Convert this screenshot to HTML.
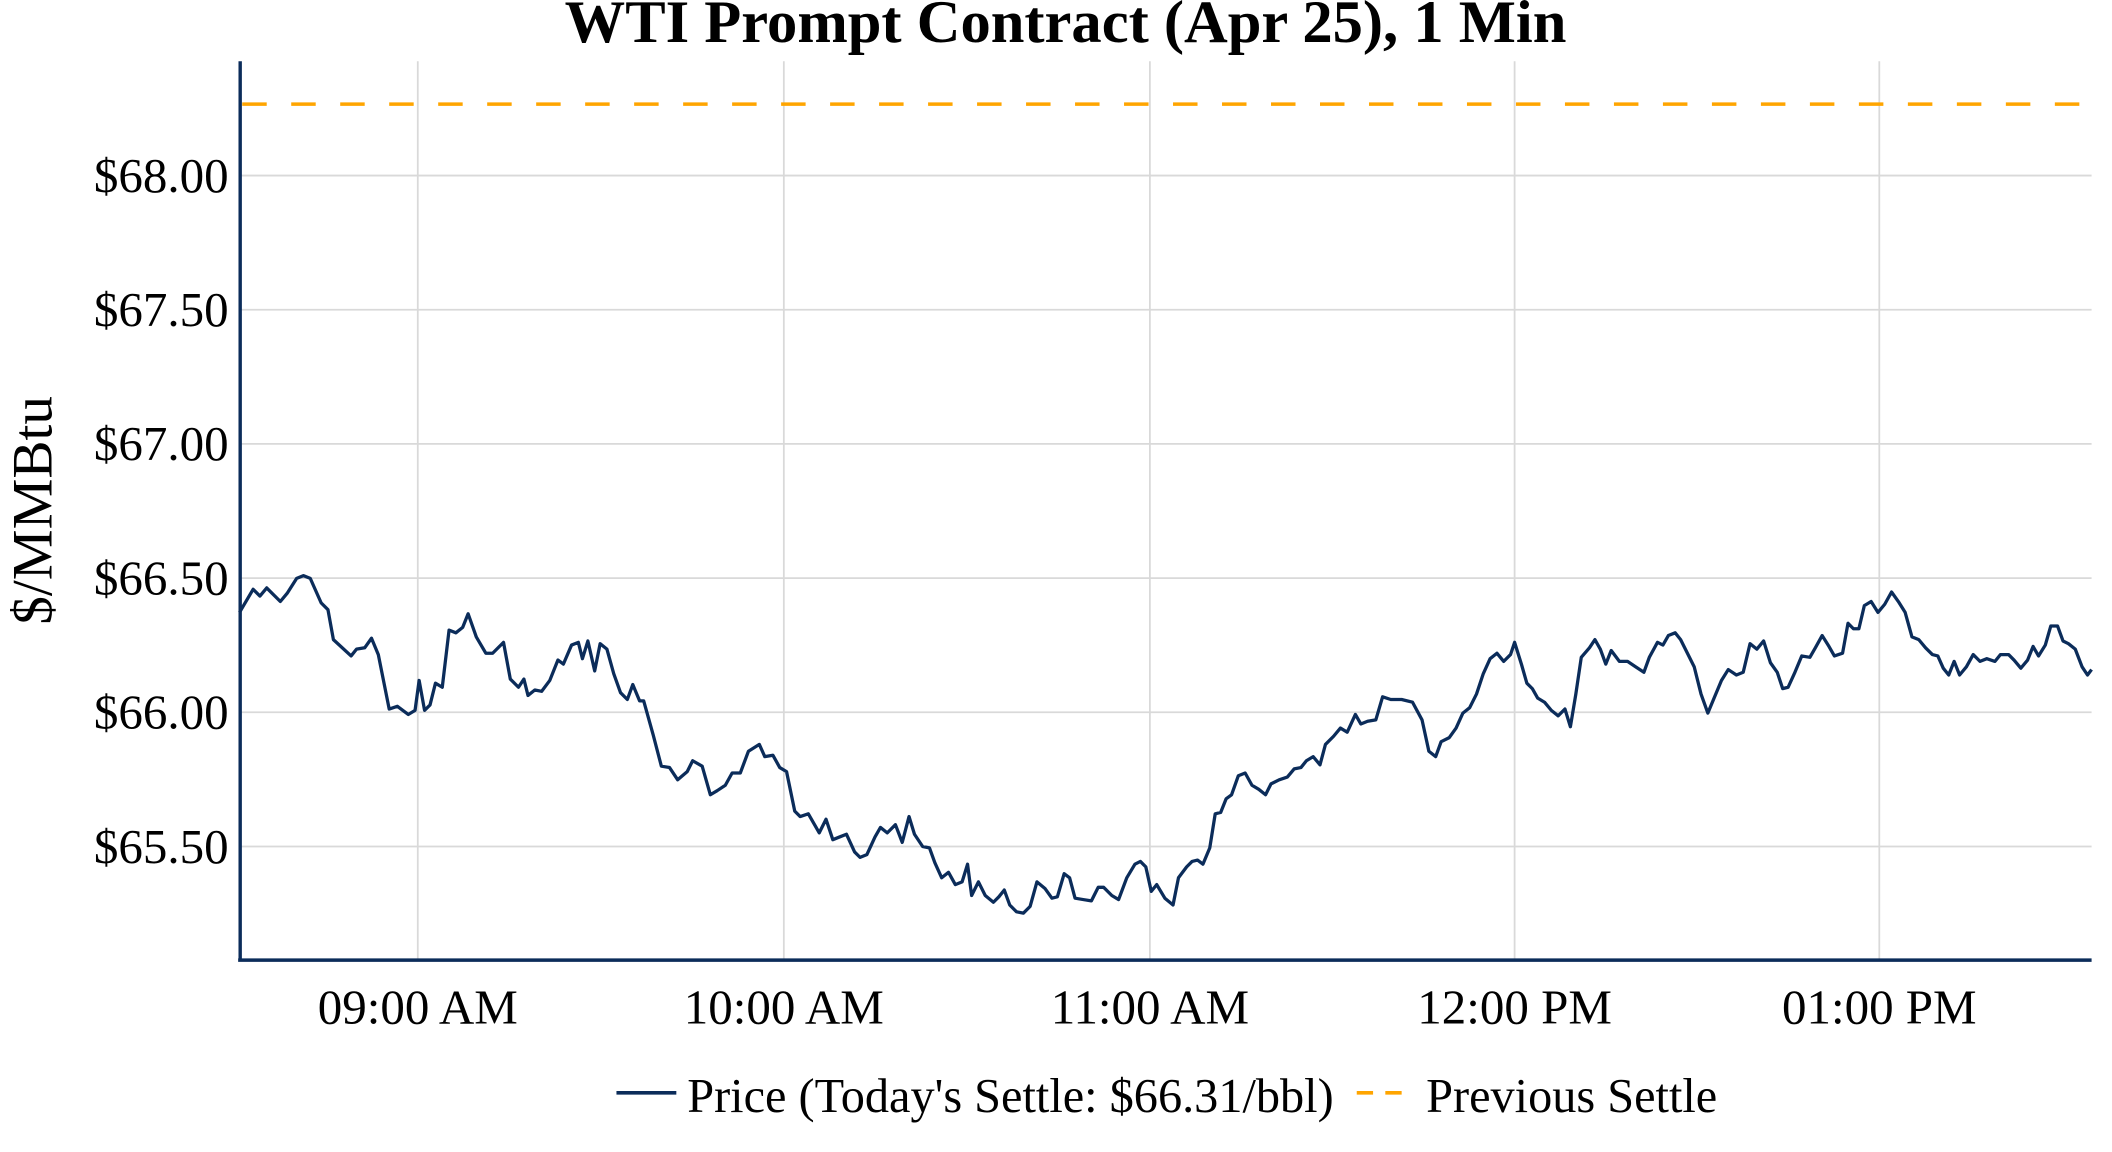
<!DOCTYPE html>
<html><head><meta charset="utf-8"><style>
html,body{margin:0;padding:0;background:#fff;}
svg{display:block;}
text{font-family:"Liberation Serif",serif;fill:#000;}
</style></head><body>
<svg width="2112" height="1152" viewBox="0 0 1552 846.5" preserveAspectRatio="none" xmlns="http://www.w3.org/2000/svg">
<rect width="1552" height="846.5" fill="#fff"/>
<g stroke="#d9d9d9" stroke-width="1.3">
<line x1="176" y1="129" x2="1537" y2="129"/>
<line x1="176" y1="227.6" x2="1537" y2="227.6"/>
<line x1="176" y1="326.2" x2="1537" y2="326.2"/>
<line x1="176" y1="424.8" x2="1537" y2="424.8"/>
<line x1="176" y1="523.4" x2="1537" y2="523.4"/>
<line x1="176" y1="622" x2="1537" y2="622"/>
<line x1="307" y1="45" x2="307" y2="705"/>
<line x1="576" y1="45" x2="576" y2="705"/>
<line x1="845" y1="45" x2="845" y2="705"/>
<line x1="1113" y1="45" x2="1113" y2="705"/>
<line x1="1381" y1="45" x2="1381" y2="705"/>
</g>
<line x1="178" y1="76.5" x2="1537" y2="76.5" stroke="#ffa500" stroke-width="2.6" stroke-dasharray="18,18"/>
<polyline fill="none" stroke="#0b2c5a" stroke-width="2.4" stroke-linejoin="round" points="176,450 186,433 191,438 196,432 206,442 211,436 218,425 223,423 228,425 236,443 241,448 245,470 258,482 262,477 268,476 273,469 278,481 286,521 292,519 300,525 305,522 308,500 312,522 316,518 320,502 325,505 330,463 335,465 340,461 344,451 350,468 357,480 362,480 370,472 375,499 381,505 385,499 388,511 393,507 398,508 404,500 410,485 414,488 420,474 425,472 428,484 432,471 437,493 441,473 446,477 451,495 456,509 461,514 465,503 470,515 473,515 480,540 486,563 492,564 498,573 505,567 509,559 516,563 522,584 527,581 533,577 538,568 544,568 550,552 558,547 562,556 568,555 573,564 578,567 584,596 588,600 594,598 598,605 602,612 607,602 612,617 617,615 622,613 628,626 632,630 637,628 643,615 647,608 652,612 658,606 663,619 668,600 672,613 678,622 683,623 687,634 692,645 697,641 702,650 707,648 711,635 714,658 719,648 724,658 730,663 734,659 738,654 742,665 747,670 752,671 757,666 762,648 768,653 773,660 777,659 782,642 786,645 790,660 796,661 802,662 807,652 811,652 817,658 822,661 828,645 834,635 838,633 842,637 846,655 850,650 856,660 862,665 866,645 872,637 876,633 880,632 884,635 889,623 893,598 897,597 901,587 905,584 910,570 915,568 920,577 925,580 930,584 934,576 940,573 946,571 951,565 956,564 960,559 965,556 970,562 974,547 980,541 985,535 990,538 996,525 1000,532 1005,530 1011,529 1016,512 1022,514 1030,514 1038,516 1045,529 1050,552 1055,556 1059,545 1065,542 1070,535 1075,524 1080,520 1085,510 1090,495 1095,484 1100,480 1105,486 1110,481 1113,472 1118,488 1122,502 1126,506 1130,513 1135,516 1140,522 1145,526 1150,521 1154,534 1158,510 1162,483 1168,476 1172,470 1176,477 1180,488 1184,478 1190,486 1196,486 1202,490 1208,494 1212,483 1218,472 1222,474 1226,467 1231,465 1235,470 1240,480 1245,490 1250,510 1255,524 1260,512 1265,500 1270,492 1276,496 1281,494 1286,473 1291,477 1296,471 1301,487 1306,494 1310,506 1314,505 1319,494 1324,482 1330,483 1334,476 1339,467 1344,475 1348,482 1354,480 1358,458 1362,462 1366,462 1370,445 1375,442 1380,450 1385,444 1390,435 1395,442 1400,450 1405,468 1410,470 1415,476 1420,481 1424,482 1428,491 1432,496 1436,486 1440,496 1445,490 1450,481 1455,486 1460,484 1466,486 1470,481 1476,481 1480,485 1485,491 1490,485 1494,475 1498,482 1503,474 1507,460 1512,460 1516,471 1520,473 1525,477 1530,490 1534,496 1537,492"/>
<line x1="176.5" y1="45" x2="176.5" y2="706" stroke="#0b2c5a" stroke-width="2.5"/>
<line x1="175" y1="705.5" x2="1537" y2="705.5" stroke="#0b2c5a" stroke-width="2.5"/>
<g font-size="36" text-anchor="end">
<text x="168" y="141">$68.00</text>
<text x="168" y="239.6">$67.50</text>
<text x="168" y="338.2">$67.00</text>
<text x="168" y="436.8">$66.50</text>
<text x="168" y="535.4">$66.00</text>
<text x="168" y="634">$65.50</text>
</g>
<g font-size="36" text-anchor="middle">
<text x="307" y="752">09:00 AM</text>
<text x="576" y="752">10:00 AM</text>
<text x="845" y="752">11:00 AM</text>
<text x="1113" y="752">12:00 PM</text>
<text x="1381" y="752">01:00 PM</text>
</g>
<text x="783" y="31" font-size="44.5" font-weight="bold" text-anchor="middle">WTI Prompt Contract (Apr 25), 1 Min</text>
<text transform="translate(38,375) rotate(-90)" font-size="42" text-anchor="middle">$/MMBtu</text>
<line x1="453" y1="803" x2="497" y2="803" stroke="#0b2c5a" stroke-width="2.6"/>
<text x="505" y="817" font-size="35.5">Price (Today's Settle: $66.31/bbl)</text>
<line x1="997" y1="803" x2="1037" y2="803" stroke="#ffa500" stroke-width="2.6" stroke-dasharray="12,9"/>
<text x="1048" y="817" font-size="35.5">Previous Settle</text>
</svg>
</body></html>
